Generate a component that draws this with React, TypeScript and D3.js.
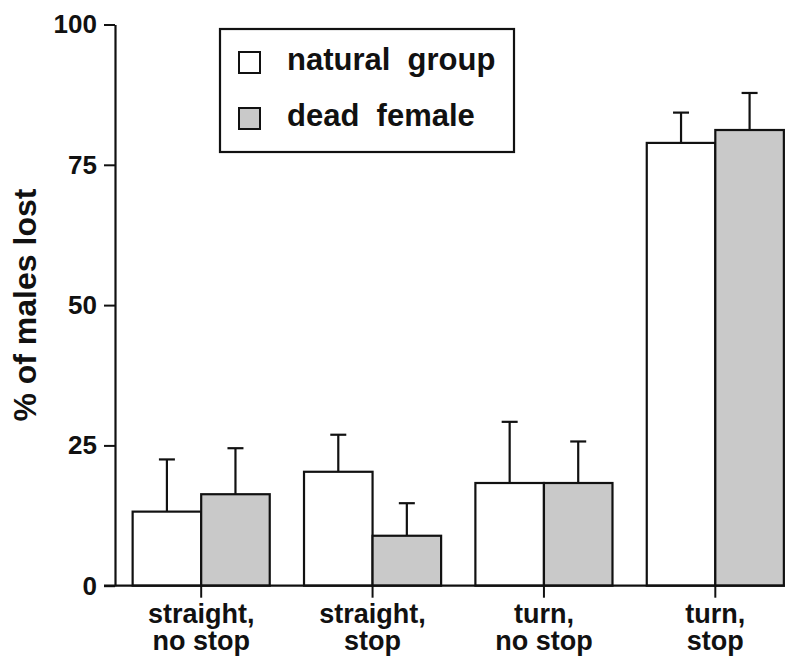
import * as d3 from "d3";
import { useLayoutEffect, useRef } from "react";

const conditions = ["sns", "ss", "tns", "ts"];
const labelLine1 = ["straight,", "straight,", "turn,", "turn,"];
const labelLine2 = ["no stop", "stop", "no stop", "stop"];

const naturalGroup = [13.2, 20.3, 18.3, 78.9];
const naturalErr = [9.3, 6.6, 10.9, 5.4];
const deadFemale = [16.3, 8.9, 18.3, 81.2];
const deadErr = [8.2, 5.8, 7.4, 6.6];

const series = ["natural  group", "dead  female"];
const seriesFill = ["#ffffff", "#c9c9c9"];
const yTicks = [0, 25, 50, 75, 100];

const width = 791;
const height = 658;
const font = "'Liberation Sans', Arial, Helvetica, sans-serif";

export default function App() {
  const ref = useRef<SVGSVGElement>(null);

  useLayoutEffect(() => {
    const svg = d3.select(ref.current);
    svg.selectAll("*").remove();

    const y = d3.scaleLinear().domain([0, 100]).range([585.7, 24.5]);
    const x = d3
      .scaleBand<string>()
      .domain(conditions)
      .range([115.5, 801])
      .paddingInner(0.2)
      .paddingOuter(0.1);
    const xs = d3
      .scaleBand<number>()
      .domain([0, 1])
      .range([0, x.bandwidth()]);

    const rows = conditions.map((c, i) => ({
      cond: c,
      vals: [
        { s: 0, v: naturalGroup[i], e: naturalErr[i] },
        { s: 1, v: deadFemale[i], e: deadErr[i] },
      ],
    }));

    // bars + error bars
    const g = svg
      .selectAll("g.grp")
      .data(rows)
      .enter()
      .append("g")
      .attr("class", "grp")
      .attr("transform", (d) => `translate(${x(d.cond)},0)`);

    const cap = 8;
    const bar = g.selectAll("g.bar").data((d) => d.vals).enter().append("g");

    bar
      .append("line")
      .attr("x1", (d) => xs(d.s)! + xs.bandwidth() / 2)
      .attr("x2", (d) => xs(d.s)! + xs.bandwidth() / 2)
      .attr("y1", (d) => y(d.v))
      .attr("y2", (d) => y(d.v + d.e))
      .attr("stroke", "#111")
      .attr("stroke-width", 2.2);
    bar
      .append("line")
      .attr("x1", (d) => xs(d.s)! + xs.bandwidth() / 2 - cap)
      .attr("x2", (d) => xs(d.s)! + xs.bandwidth() / 2 + cap)
      .attr("y1", (d) => y(d.v + d.e))
      .attr("y2", (d) => y(d.v + d.e))
      .attr("stroke", "#111")
      .attr("stroke-width", 2.2);
    bar
      .append("rect")
      .attr("x", (d) => xs(d.s)!)
      .attr("width", xs.bandwidth())
      .attr("y", (d) => y(d.v))
      .attr("height", (d) => y(0) - y(d.v))
      .attr("fill", (d) => seriesFill[d.s])
      .attr("stroke", "#111")
      .attr("stroke-width", 2.2);

    // y axis
    const yAxis = svg
      .append("g")
      .attr("transform", "translate(115,0)")
      .call(
        d3
          .axisLeft(y)
          .tickValues(yTicks)
          .tickSize(11)
          .tickSizeOuter(0)
          .tickPadding(7)
      );
    yAxis.select(".domain").attr("stroke", "#111").attr("stroke-width", 2.2);
    yAxis.selectAll(".tick line").attr("stroke", "#111").attr("stroke-width", 2);
    yAxis
      .selectAll(".tick text")
      .attr("fill", "#111")
      .style("font-family", font)
      .style("font-weight", "bold")
      .style("font-size", "26px");

    // x axis
    const xAxis = svg
      .append("g")
      .attr("transform", `translate(0,${y(0)})`)
      .call(d3.axisBottom(x).tickSize(12).tickSizeOuter(0));
    xAxis.select(".domain").remove();
    xAxis.selectAll(".tick line").attr("stroke", "#111").attr("stroke-width", 2);
    xAxis.selectAll(".tick text").remove();
    xAxis
      .append("line")
      .attr("x1", 104)
      .attr("x2", (x(conditions[3]) as number) + x.bandwidth() + 1)
      .attr("stroke", "#111")
      .attr("stroke-width", 2.2);

    const lbl = xAxis
      .selectAll("text.lbl")
      .data(conditions)
      .enter()
      .append("text")
      .attr("class", "lbl")
      .attr("x", (d) => (x(d) as number) + x.bandwidth() / 2)
      .attr("text-anchor", "middle")
      .attr("fill", "#111")
      .style("font-family", font)
      .style("font-weight", "bold")
      .style("font-size", "27px");
    lbl
      .append("tspan")
      .attr("x", (d) => (x(d) as number) + x.bandwidth() / 2)
      .attr("y", 37)
      .text((_, i) => labelLine1[i]);
    lbl
      .append("tspan")
      .attr("x", (d) => (x(d) as number) + x.bandwidth() / 2)
      .attr("y", 64.5)
      .text((_, i) => labelLine2[i]);

    // y title
    svg
      .append("text")
      .attr("transform", `translate(36,${(y(0) + y(100)) / 2}) rotate(-90)`)
      .attr("text-anchor", "middle")
      .attr("fill", "#111")
      .style("font-family", font)
      .style("font-weight", "bold")
      .style("font-size", "32px")
      .text("% of males lost");

    // legend
    const lg = svg.append("g");
    lg.append("rect")
      .attr("x", 220)
      .attr("y", 29)
      .attr("width", 294)
      .attr("height", 123)
      .attr("fill", "#fff")
      .attr("stroke", "#111")
      .attr("stroke-width", 2.2);
    const item = lg
      .selectAll("g.item")
      .data(series)
      .enter()
      .append("g")
      .attr("transform", (_, i) => `translate(0,${i * 56})`);
    item
      .append("rect")
      .attr("x", 239)
      .attr("y", 52)
      .attr("width", 21)
      .attr("height", 21)
      .attr("fill", (_, i) => seriesFill[i])
      .attr("stroke", "#111")
      .attr("stroke-width", 2);
    item
      .append("text")
      .attr("x", 287)
      .attr("y", 70)
      .attr("fill", "#111")
      .style("white-space", "pre")
      .style("font-family", font)
      .style("font-weight", "bold")
      .style("font-size", "31px")
      .text((d) => d);
  }, []);

  return (
    <svg
      ref={ref}
      width={width}
      height={height}
      style={{ position: "absolute", left: 0, top: 0, background: "#fff" }}
    />
  );
}
